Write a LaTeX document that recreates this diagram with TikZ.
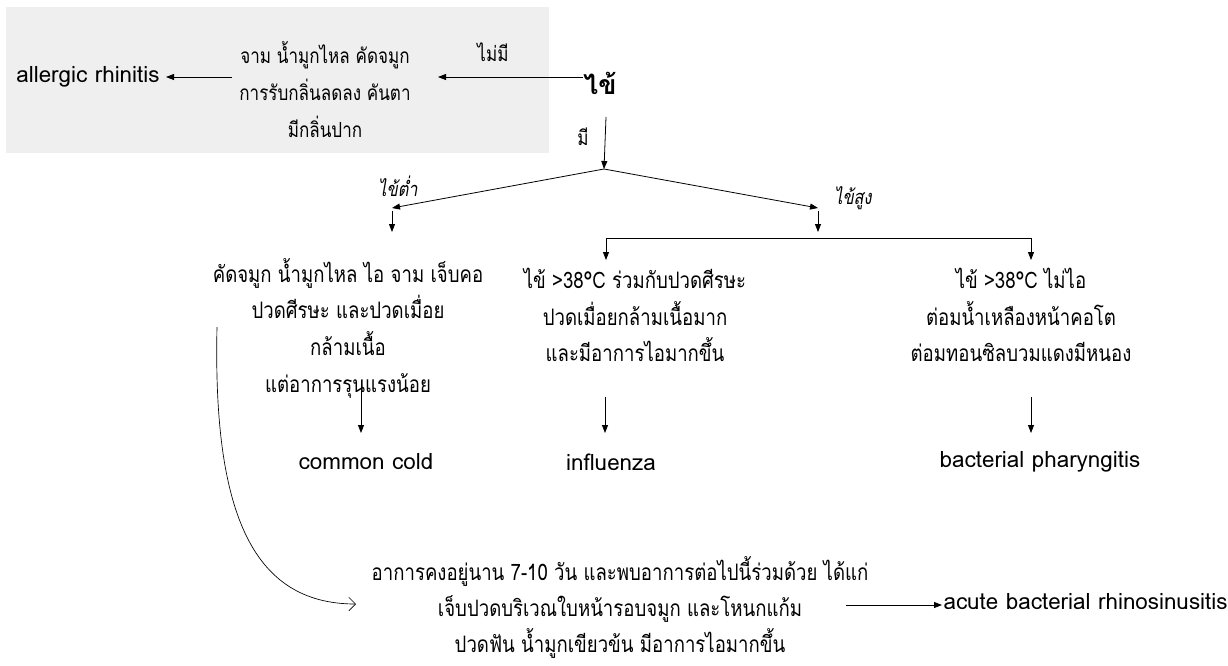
\documentclass[tikz,border=0pt]{standalone}
\usepackage{fontspec}
\newfontfamily\thai[Script=Thai, FakeStretch=0.82]{Loma}
\newfontfamily\latin[Script=Thai]{Loma}
\usetikzlibrary{arrows.meta}
\definecolor{boxgray}{HTML}{EFEFEF}
\tikzset{
  arr/.style={-{Triangle[length=6pt,width=4.5pt]}, line width=0.6pt},
  txt/.style={font=\thai\fontsize{17}{27.5}\selectfont, align=center, inner sep=1pt},
  smalltxt/.style={font=\thai\fontsize{15.6}{27.75}\selectfont, align=center, inner sep=1pt},
  lat/.style={font=\latin\fontsize{16.8}{20}\selectfont, inner sep=1pt},
  lbl/.style={font=\thai\fontsize{15}{18}\selectfont\itshape, inner sep=1pt}
}
\begin{document}
\begin{tikzpicture}[x=0.75pt, y=-0.75pt]
    \useasboundingbox (0,0) rectangle (1228,665);
    % กรอบสีเทา
    \fill[boxgray] (6,7) rectangle (549,153);
    \node[lat] (allergic) at (88,77) {allergic rhinitis};
    \node[smalltxt] (allergicSym) at (325,90) {จาม น้ำมูกไหล คัดจมูก\\การรับกลิ่นลดลง คันตา\\มีกลิ่นปาก};
    \node[smalltxt] (noLbl) at (493,52) {ไม่มี};
    \node[font=\latin\fontsize{20}{24}\selectfont\bfseries, inner sep=1pt] (fever) at (600,83) {ไข้};
    \coordinate (noFrom) at (583,77);
    \coordinate (noTo) at (438,77);
    \coordinate (symFrom) at (232,77);
    \coordinate (symTo) at (166,77);
    \draw[arr] (noFrom) -- (noTo);
    \draw[arr] (symFrom) -- (symTo);

    % มีไข้
    \coordinate (feverDown) at (606,117);
    \coordinate (split) at (604,169);
    \coordinate (lowEnd) at (392,208);
    \coordinate (highEnd) at (818,208);
    \draw[arr] (feverDown) -- (split);
    \node[smalltxt] (yesLbl) at (583,137) {มี};
    \draw[arr] (split) -- (lowEnd);
    \draw[arr] (split) -- (highEnd);
    \node[lbl] (lowLbl) at (398,186) {ไข้ต่ำ};
    \node[lbl] (highLbl) at (853,198) {ไข้สูง};

    % ไข้ต่ำ
    \node[txt] (lowSym) at (348,328) {คัดจมูก น้ำมูกไหล ไอ จาม เจ็บคอ\\ปวดศีรษะ และปวดเมื่อย\\กล้ามเนื้อ\\แต่อาการรุนแรงน้อย};
    \coordinate (lowDown) at (392,232);
    \draw[arr] ([yshift=-2]lowEnd) -- (lowDown);

    % ไข้สูง
    \node[txt] (fluSym) at (635,315) {ไข้ >38°C ร่วมกับปวดศีรษะ\\ปวดเมื่อยกล้ามเนื้อมาก\\และมีอาการไอมากขึ้น};
    \node[txt] (pharSym) at (1021,315) {ไข้ >38°C ไม่ไอ\\ต่อมน้ำเหลืองหน้าคอโต\\ต่อมทอนซิลบวมแดงมีหนอง};
    \coordinate (highDown) at (818,232);
    \coordinate (barL) at (606,238);
    \coordinate (barR) at (1031,238);
    \draw[arr] ([yshift=-2]highEnd) -- (highDown);
    \draw (barL) -- (barR);
    \draw[arr] (barL) -- ++(0,22);
    \draw[arr] (barR) -- ++(0,22);

    % โรค
    \node[lat] (cold) at (366,462) {common cold};
    \node[lat] (flu) at (611,462) {influenza};
    \node[lat] (phar) at (1040,462) {bacterial pharyngitis};
    \coordinate (coldTop) at (361,380);
    \coordinate (fluTop) at (605,397);
    \coordinate (pharTop) at (1031,397);
    \draw[arr] (coldTop) -- (361,433);
    \draw[arr] (fluTop) -- (605,433);
    \draw[arr] (pharTop) -- (1031,433);

    % ไซนัส
    \node[txt, font=\thai\fontsize{17}{27}\selectfont] (sinusSym) at (620,607) {อาการคงอยู่นาน 7-10 วัน และพบอาการต่อไปนี้ร่วมด้วย ได้แก่\\เจ็บปวดบริเวณใบหน้ารอบจมูก และโหนกแก้ม\\ปวดฟัน น้ำมูกเขียวข้น มีอาการไอมากขึ้น};
    \node[lat, anchor=west] (sinus) at (942,602) {acute bacterial rhinosinusitis};
    \coordinate (curveStart) at (217,327);
    \coordinate (curveEnd) at (356,604);
    \coordinate (sinusFrom) at (846,605);
    \draw[line width=0.5pt, -{Straight Barb[length=5pt,width=10pt]}] (curveStart) .. controls (213,508) and (250,604) .. (curveEnd);
    \draw[arr] (sinusFrom) -- (sinus.west |- sinusFrom);
\end{tikzpicture}
\end{document}
